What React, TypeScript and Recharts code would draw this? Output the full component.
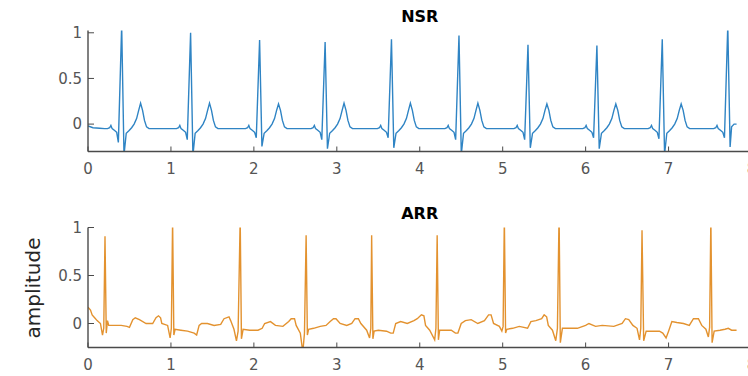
import { LineChart, Line, XAxis, YAxis } from 'recharts';

// axes
const X_TICKS = [0, 1, 2, 3, 4, 5, 6, 7, 8];
const Y_TICKS = [0, 0.5, 1];
const NSR_DOMAIN = [-0.3, 1.025];
const ARR_DOMAIN = [-0.25, 1];

// NSR: one beat shape (seconds from the R peak), per-beat Q/R/S/T levels
const NSR_HEAD = [[0, -0.02], [0.06, -0.04], [0.14, -0.045], [0.2, -0.05]];
const NSR_R_TIMES = [0.406, 1.237, 2.069, 2.859, 3.659, 4.473, 5.305, 6.136, 6.924, 7.714];
const NSR_R = [1.08, 1.0, 0.92, 0.9, 0.93, 0.97, 0.87, 0.86, 0.93, 1.08];
const NSR_Q = [-0.2, -0.17, -0.15, -0.17, -0.15, -0.17, -0.17, -0.15, -0.16, -0.15];
const NSR_S = [-0.34, -0.34, -0.245, -0.27, -0.26, -0.33, -0.26, -0.27, -0.33, -0.25];
const NSR_T = [0.23, 0.23, 0.22, 0.23, 0.23, 0.23, 0.22, 0.22, 0.22, 0.22];
const NSR_BEAT_DT = [-0.17, -0.145, -0.13, -0.115, -0.085, -0.06, -0.04, 0, 0.028, 0.055, 0.09, 0.12, 0.15, 0.18, 0.205, 0.228, 0.252, 0.275, 0.3, 0.33];
const NSR_BEAT_LEVEL: (number | string)[] = [-0.05, -0.04, -0.015, -0.05, -0.07, -0.09, 'Q', 'R', 'S', -0.1, -0.07, -0.04, 0.0, 0.06, 0.15, 'T', 0.15, 0.04, -0.03, -0.05];
const NSR_CUT = 7.75;
const NSR_TAIL = [[7.76, -0.03], [7.79, 0.0], [7.82, 0.0]];

// ARR trace, [seconds, amplitude]
const ARR_POINTS = [
  [0.0, 0.17], [0.03, 0.14], [0.05, 0.09], [0.08, 0.06], [0.11, 0.03], [0.15, 0.0], [0.175, -0.12], [0.19, -0.05],
  [0.205, 0.91], [0.22, -0.1], [0.235, 0.03], [0.25, -0.02], [0.3, -0.02], [0.4, -0.02], [0.47, -0.03], [0.5, -0.04],
  [0.54, 0.04], [0.57, 0.06], [0.62, 0.04], [0.7, 0.0], [0.78, 0.0], [0.82, 0.06], [0.85, 0.08], [0.875, 0.06],
  [0.89, 0.0], [0.96, -0.02], [0.99, -0.15], [1.005, -0.05], [1.02, 1.08], [1.035, -0.12], [1.05, -0.06], [1.12, -0.07],
  [1.2, -0.08], [1.28, -0.1], [1.31, -0.12], [1.34, -0.02], [1.37, 0.0], [1.44, 0.0], [1.52, -0.02], [1.6, -0.01],
  [1.64, 0.05], [1.7, 0.07], [1.72, 0.03], [1.76, -0.06], [1.79, -0.18], [1.81, -0.08], [1.835, 1.1], [1.85, -0.16],
  [1.87, -0.06], [1.95, -0.07], [2.05, -0.07], [2.1, -0.05], [2.13, 0.0], [2.2, 0.02], [2.26, -0.02], [2.35, -0.03],
  [2.42, 0.02], [2.45, 0.05], [2.49, 0.05], [2.51, -0.02], [2.56, -0.1], [2.59, -0.3], [2.61, -0.1], [2.63, 0.92],
  [2.645, -0.12], [2.66, -0.06], [2.72, -0.05], [2.8, -0.03], [2.87, -0.02], [2.92, 0.02], [2.96, 0.05], [2.99, 0.05],
  [3.04, 0.0], [3.12, -0.02], [3.18, 0.0], [3.22, 0.05], [3.26, 0.05], [3.29, 0.0], [3.36, -0.07], [3.395, -0.15],
  [3.41, -0.05], [3.42, 0.92], [3.435, -0.16], [3.45, -0.08], [3.5, -0.07], [3.6, -0.08], [3.65, -0.1], [3.68, -0.1],
  [3.71, 0.0], [3.77, 0.02], [3.85, 0.0], [3.93, 0.03], [3.97, 0.05], [4.02, 0.09], [4.05, 0.08], [4.07, -0.02],
  [4.12, -0.07], [4.18, -0.17], [4.195, -0.05], [4.21, 0.92], [4.225, -0.17], [4.24, -0.07], [4.3, -0.07], [4.38, -0.07],
  [4.43, -0.1], [4.46, -0.1], [4.5, 0.0], [4.55, 0.03], [4.62, 0.04], [4.7, 0.0], [4.78, 0.03], [4.83, 0.09],
  [4.86, 0.09], [4.89, 0.0], [4.96, -0.03], [4.99, -0.08], [5.005, -0.03], [5.02, 1.1], [5.035, -0.1], [5.05, -0.06],
  [5.12, -0.05], [5.2, -0.03], [5.3, -0.05], [5.34, 0.02], [5.4, 0.03], [5.47, 0.05], [5.5, 0.09], [5.53, 0.07],
  [5.55, -0.02], [5.6, -0.07], [5.64, -0.18], [5.66, -0.05], [5.68, 1.15], [5.695, -0.2], [5.72, -0.05], [5.8, -0.05],
  [5.9, -0.05], [6.0, -0.02], [6.04, 0.0], [6.12, -0.03], [6.2, -0.02], [6.34, -0.03], [6.44, 0.0], [6.48, 0.05],
  [6.52, 0.04], [6.57, -0.02], [6.62, -0.05], [6.65, -0.17], [6.665, -0.05], [6.68, 0.97], [6.7, -0.18], [6.73, -0.08],
  [6.8, -0.08], [6.89, -0.08], [6.93, -0.1], [6.97, -0.15], [7.0, -0.08], [7.04, 0.02], [7.1, 0.01], [7.18, 0.0],
  [7.25, -0.02], [7.3, 0.05], [7.36, 0.05], [7.4, -0.02], [7.45, -0.06], [7.48, -0.14], [7.495, -0.04], [7.51, 1.1],
  [7.525, -0.2], [7.55, -0.08], [7.62, -0.07], [7.68, -0.06], [7.72, -0.05], [7.76, -0.07], [7.82, -0.07],
];

function buildNsr() {
  const pts = NSR_HEAD.map(([t, v]) => ({ t, v }));
  NSR_R_TIMES.forEach((tr, i) => {
    const named: Record<string, number> = { Q: NSR_Q[i], R: NSR_R[i], S: NSR_S[i], T: NSR_T[i] };
    NSR_BEAT_DT.forEach((dt, k) => {
      const t = tr + dt;
      if (t > NSR_CUT) return;
      const lv = NSR_BEAT_LEVEL[k];
      pts.push({ t, v: typeof lv === 'string' ? named[lv] : lv });
    });
  });
  NSR_TAIL.forEach(([t, v]) => pts.push({ t, v }));
  return pts;
}

const nsrData = buildNsr();
const arrData = ARR_POINTS.map(([t, v]) => ({ t, v }));

const W = 760;
const H = 188;
const PLOT_LEFT = 88;
const PLOT_RIGHT = 751.5;
const X_AXIS_H = 25;
const FONT = '"DejaVu Sans", sans-serif';
const FRAME = '#4a4a4a';
const TICK_TEXT = '#555555';

interface PanelProps {
  data: { t: number; v: number }[];
  domain: number[];
  color: string;
  top: number;
  plotTop: number;
  plotBottom: number;
}

function EcgPanel({ data, domain, color, top, plotTop, plotBottom }: PanelProps) {
  const margin = { top: plotTop, right: W - PLOT_RIGHT, bottom: H - plotBottom - X_AXIS_H, left: 0 };
  const axisLine = { stroke: FRAME, strokeWidth: 1.4 };
  const tickLine = { stroke: FRAME, strokeWidth: 1 };
  const tickText = { fill: TICK_TEXT, fontSize: 15, fontFamily: FONT };
  return (
    <div style={{ position: 'absolute', left: 0, top }}>
      <LineChart width={W} height={H} data={data} margin={margin}>
        <XAxis
          xAxisId="b"
          type="number"
          dataKey="t"
          domain={[0, 8]}
          ticks={X_TICKS}
          interval={0}
          allowDataOverflow
          height={X_AXIS_H}
          tickSize={-5}
          tickMargin={17}
          axisLine={axisLine}
          tickLine={tickLine}
          tick={tickText}
        />
        <XAxis
          xAxisId="t"
          orientation="top"
          type="number"
          domain={[0, 8]}
          ticks={X_TICKS}
          interval={0}
          allowDataOverflow
          height={0}
          tickSize={-5}
          tickFormatter={() => ''}
          axisLine={axisLine}
          tickLine={tickLine}
        />
        <YAxis
          yAxisId="l"
          type="number"
          domain={domain}
          ticks={Y_TICKS}
          interval={0}
          allowDataOverflow
          width={PLOT_LEFT}
          tickSize={-6}
          tickMargin={12}
          axisLine={axisLine}
          tickLine={tickLine}
          tick={tickText}
        />
        <YAxis
          yAxisId="r"
          orientation="right"
          type="number"
          domain={domain}
          ticks={Y_TICKS}
          interval={0}
          allowDataOverflow
          width={0}
          tickSize={-6}
          tickFormatter={() => ''}
          axisLine={axisLine}
          tickLine={tickLine}
        />
        <Line
          xAxisId="b"
          yAxisId="l"
          type="linear"
          dataKey="v"
          stroke={color}
          strokeWidth={1.4}
          dot={false}
          activeDot={false}
          isAnimationActive={false}
        />
      </LineChart>
    </div>
  );
}

export default function App() {
  const titleX = (PLOT_LEFT + PLOT_RIGHT) / 2;
  return (
    <div style={{ position: 'absolute', left: 0, top: 0, width: 748, height: 376, overflow: 'hidden', background: '#fff' }}>
      <EcgPanel data={nsrData} domain={NSR_DOMAIN} color="#2F84C4" top={0} plotTop={30.5} plotBottom={151.5} />
      <EcgPanel data={arrData} domain={ARR_DOMAIN} color="#E3922F" top={188} plotTop={39.5} plotBottom={159.5} />
      <svg width={748} height={376} style={{ position: 'absolute', left: 0, top: 0, pointerEvents: 'none' }}>
        <text x={titleX} y={21.7} textAnchor="middle" fontFamily={FONT} fontSize={16} fontWeight="bold" fill="#000">
          NSR
        </text>
        <text x={titleX} y={219.3} textAnchor="middle" fontFamily={FONT} fontSize={16} fontWeight="bold" fill="#000">
          ARR
        </text>
        <text
          x={33}
          y={288}
          transform="rotate(-90 33 288)"
          textAnchor="middle"
          dominantBaseline="central"
          fontFamily={FONT}
          fontSize={20}
          fill="#262626"
        >
          amplitude
        </text>
      </svg>
    </div>
  );
}
